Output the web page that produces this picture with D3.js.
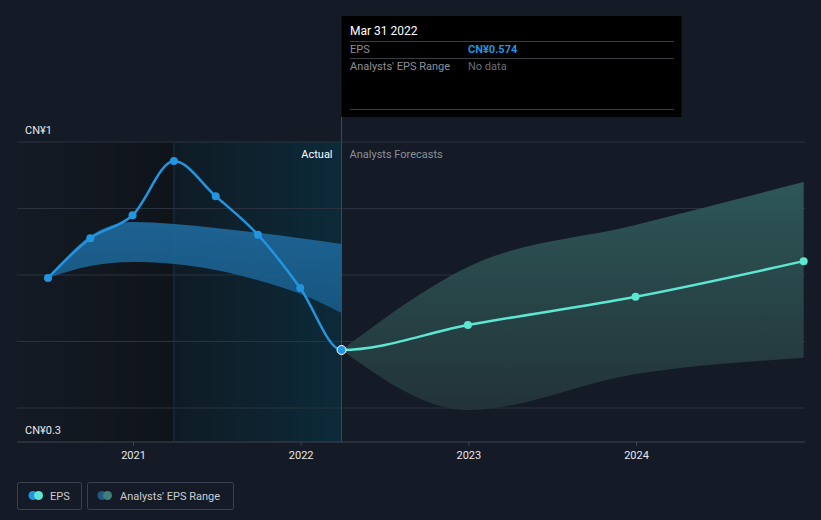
<!DOCTYPE html>
<html><head><meta charset="utf-8">
<script src="https://cdn.jsdelivr.net/npm/d3@7/dist/d3.min.js"></script>
<style>
html,body{margin:0;padding:0;background:#151b26;}
svg{display:block;font-family:Roboto,"Noto Sans",sans-serif;}
</style></head><body>
<svg id="c" width="821" height="520"></svg>
<script>
// ---- data ----
const actualDates = ["2020-06-30","2020-09-30","2020-12-31","2021-03-31","2021-06-30","2021-09-30","2021-12-31","2022-03-31"];
const actualEPS   = [0.7215, 0.803, 0.850, 0.961, 0.889, 0.810, 0.701, 0.574];
const pastRangeHigh = [0.7215, 0.8075, 0.836, 0.832, 0.824, 0.814, 0.803, 0.791];
const pastRangeLow  = [0.7215, 0.746, 0.754, 0.750, 0.738, 0.717, 0.689, 0.650];
const forecastDates = ["2022-03-31","2022-12-31","2023-12-31","2024-12-31"];
const forecastEPS   = [0.574, 0.625, 0.683, 0.756];
const forecastHigh  = [0.574, 0.744, 0.830, 0.918];
const forecastLow   = [0.574, 0.451, 0.525, 0.558];
const yearTicks = ["2021-01-01","2022-01-01","2023-01-01","2024-01-01"];
const yTickLabels = ["CN¥1","CN¥0.3"];
const tooltipRows = [["EPS","CN¥0.574"],["Analysts' EPS Range","No data"]];

const parse = d3.utcParse("%Y-%m-%d");
const svg = d3.select("#c");
const L = 17, R = 805, T = 142, B = 442;

const x = d3.scaleUtc().domain([parse("2021-01-01"), parse("2024-01-01")]).range([133, 636]);
const y = d3.scaleLinear().domain([0.574, 1]).range([350, 142]);

const xNow = x(parse("2022-03-31"));
const xAct = x(parse("2021-03-31"));

const defs = svg.append("defs");
const g1 = defs.append("linearGradient").attr("id","gLeft").attr("x1",0).attr("x2",1).attr("y1",0).attr("y2",0);
g1.append("stop").attr("offset",0).attr("stop-color","#141a24");
g1.append("stop").attr("offset",1).attr("stop-color","#0f141b");
const g2 = defs.append("linearGradient").attr("id","gAct").attr("x1",0).attr("x2",1).attr("y1",0).attr("y2",0);
g2.append("stop").attr("offset",0).attr("stop-color","#0f1b24");
g2.append("stop").attr("offset",1).attr("stop-color","#0c2a39");
const g3 = defs.append("linearGradient").attr("id","gFc").attr("x1",0).attr("x2",0).attr("y1",0).attr("y2",1);
g3.append("stop").attr("offset",0).attr("stop-color","#2f5a59");
g3.append("stop").attr("offset",1).attr("stop-color","#22343a");
const g4 = defs.append("linearGradient").attr("id","gPast").attr("x1",0).attr("x2",0).attr("y1",0).attr("y2",1);
g4.append("stop").attr("offset",0).attr("stop-color","#1e6a9e");
g4.append("stop").attr("offset",1).attr("stop-color","#195a88");
defs.append("clipPath").attr("id","cPast").append("rect").attr("x",0).attr("y",0).attr("width",xNow).attr("height",520);
defs.append("clipPath").attr("id","cFut").append("rect").attr("x",xNow).attr("y",0).attr("width",821-xNow).attr("height",520);

// background regions
svg.append("rect").attr("x",L).attr("y",T).attr("width",xAct-L).attr("height",B-T).attr("fill","url(#gLeft)");
svg.append("rect").attr("x",xAct).attr("y",T).attr("width",xNow-xAct).attr("height",B-T).attr("fill","url(#gAct)");

// gridlines
const gridY = d3.range(5).map(i => T + i*(B-T-34)/4);
svg.append("g").selectAll("line").data(gridY).join("line")
  .attr("x1",L).attr("x2",R).attr("y1",d=>d).attr("y2",d=>d)
  .attr("stroke","#2b323d").attr("stroke-width",1);

// vertical markers
svg.append("line").attr("x1",xAct).attr("x2",xAct).attr("y1",T).attr("y2",B).attr("stroke","#173442").attr("stroke-width",1);
svg.append("line").attr("x1",xNow).attr("x2",xNow).attr("y1",117).attr("y2",B).attr("stroke","#1d5670").attr("stroke-width",1);

// forecast band
const fc = forecastDates.map((d,i)=>({d:parse(d),v:forecastEPS[i],h:forecastHigh[i],l:forecastLow[i]}));
svg.append("path").datum(fc)
  .attr("d", d3.area().x(d=>x(d.d)).y0(d=>y(d.l)).y1(d=>y(d.h)).curve(d3.curveMonotoneX))
  .attr("fill","url(#gFc)").attr("opacity",0.95);

// past range band
const act = actualDates.map((d,i)=>({d:parse(d),v:actualEPS[i],h:pastRangeHigh[i],l:pastRangeLow[i]}));
svg.append("path").datum(act)
  .attr("d", d3.area().x(d=>x(d.d)).y0(d=>y(d.l)).y1(d=>y(d.h)).curve(d3.curveMonotoneX))
  .attr("fill","url(#gPast)").attr("opacity",0.9);

// lines: one continuous curve, coloured by side of "now"
const all = act.concat(fc.slice(1));
const lineGen = d3.line().x(d=>x(d.d)).y(d=>y(d.v)).curve(d3.curveMonotoneX);
svg.append("path").datum(all).attr("d", lineGen).attr("clip-path","url(#cFut)")
  .attr("fill","none").attr("stroke","#5de6d2").attr("stroke-width",2.5);
svg.append("path").datum(all).attr("d", lineGen).attr("clip-path","url(#cPast)")
  .attr("fill","none").attr("stroke","#2394df").attr("stroke-width",2.5);

svg.append("g").selectAll("circle").data(fc.slice(1)).join("circle")
  .attr("cx",d=>x(d.d)).attr("cy",d=>y(d.v)).attr("r",4).attr("fill","#5de6d2");
svg.append("g").selectAll("circle").data(act.slice(0,-1)).join("circle")
  .attr("cx",d=>x(d.d)).attr("cy",d=>y(d.v)).attr("r",4).attr("fill","#2394df");
const last = act[act.length-1];
svg.append("circle").attr("cx",x(last.d)).attr("cy",y(last.v)).attr("r",4.5)
  .attr("fill","#2394df").attr("stroke","#ffffff").attr("stroke-width",1);

// x axis
svg.append("line").attr("x1",L).attr("x2",R).attr("y1",B).attr("y2",B).attr("stroke","#3c4450");
const xa = svg.append("g").attr("transform",`translate(0,${B})`)
  .call(d3.axisBottom(x).tickValues(yearTicks.map(parse)).tickFormat(d3.utcFormat("%Y")).tickSize(4).tickPadding(5));
xa.select(".domain").remove();
xa.selectAll("line").attr("stroke","#3c4450");
xa.selectAll("text").attr("fill","#e6e8eb").attr("font-size","11px").attr("font-family","Roboto");

// y labels
svg.append("text").attr("x",25).attr("y",134).attr("fill","#e6e8eb").attr("font-size","11px").text(yTickLabels[0]);
svg.append("text").attr("x",25).attr("y",434).attr("fill","#e6e8eb").attr("font-size","11px").text(yTickLabels[1]);

// Actual / forecast labels
svg.append("text").attr("x",xNow-9).attr("y",158).attr("text-anchor","end").attr("fill","#ffffff").attr("font-size","11px").text("Actual");
svg.append("text").attr("x",xNow+8).attr("y",158).attr("fill","#8a9099").attr("font-size","11px").text("Analysts Forecasts");

// tooltip
const tt = svg.append("g");
tt.append("rect").attr("x",xNow).attr("y",16).attr("width",340).attr("height",101).attr("fill","#000000");
tt.append("text").attr("x",350).attr("y",35).attr("fill","#ffffff").attr("font-size","12px").text("Mar 31 2022");
[41,58,109].forEach(yy=>tt.append("line").attr("x1",350).attr("x2",674).attr("y1",yy+0.5).attr("y2",yy+0.5).attr("stroke","#3a3d42"));
tt.append("text").attr("x",350).attr("y",53).attr("fill","#8c9096").attr("font-size","11px").text(tooltipRows[0][0]);
tt.append("text").attr("x",468).attr("y",53).attr("fill","#2394df").attr("font-size","11px").attr("font-weight","bold").text(tooltipRows[0][1]);
tt.append("text").attr("x",350).attr("y",70).attr("fill","#8c9096").attr("font-size","11px").text(tooltipRows[1][0]);
tt.append("text").attr("x",468).attr("y",70).attr("fill","#6b6f75").attr("font-size","11px").text(tooltipRows[1][1]);

// legend
const lg = svg.append("g");
lg.append("rect").attr("x",17.5).attr("y",482.5).attr("width",64).attr("height",27).attr("rx",2).attr("fill","none").attr("stroke","#3a4150");
lg.append("circle").attr("cx",33).attr("cy",495.5).attr("r",4.5).attr("fill","#2394df");
lg.append("circle").attr("cx",38.5).attr("cy",495.5).attr("r",4.5).attr("fill","#5de6d2");
lg.append("text").attr("x",50).attr("y",499.5).attr("fill","#c9ccd1").attr("font-size","11px").text("EPS");
lg.append("rect").attr("x",87.5).attr("y",482.5).attr("width",146).attr("height",27).attr("rx",2).attr("fill","none").attr("stroke","#3a4150");
lg.append("circle").attr("cx",102).attr("cy",495.5).attr("r",4.5).attr("fill","#1f5a85");
lg.append("circle").attr("cx",107.5).attr("cy",495.5).attr("r",4.5).attr("fill","#3f7f79");
lg.append("text").attr("x",120).attr("y",499.5).attr("fill","#c9ccd1").attr("font-size","11px").text("Analysts' EPS Range");
</script>
</body></html>
